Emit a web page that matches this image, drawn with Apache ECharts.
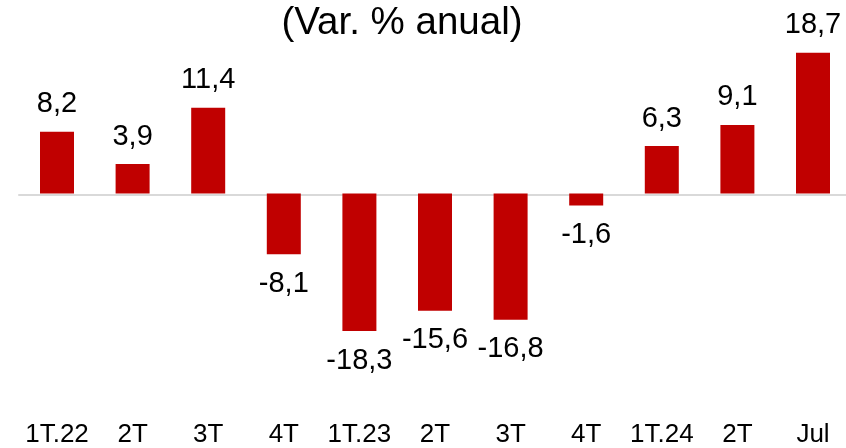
<!DOCTYPE html>
<html>
<head>
<meta charset="utf-8">
<script src="https://cdn.jsdelivr.net/npm/echarts@6/dist/echarts.min.js"></script>
<style>
  html, body { margin: 0; padding: 0; background: #fff; }
  #chart { width: 846px; height: 448px; }
</style>
</head>
<body>
<div id="chart"></div>
<script>
var categories = ['1T.22', '2T', '3T', '4T', '1T.23', '2T', '3T', '4T', '1T.24', '2T', 'Jul'];
var values = [8.2, 3.9, 11.4, -8.1, -18.3, -15.6, -16.8, -1.6, 6.3, 9.1, 18.7];
var titleText = '(Var. % anual)';

function fmt(v) {
    return v.toFixed(1).replace('.', ',');
}

var barData = [];
for (var i = 0; i < values.length; i++) {
    var v = values[i];
    barData.push({
        value: v,
        label: {
            position: v < 0 ? 'bottom' : 'top',
            distance: v < 0 ? 15 : 13
        }
    });
}

var labelFont = 'Liberation Sans, Arial';

var chart = echarts.init(document.getElementById('chart'));
chart.setOption({
    animation: false,
    title: {
        text: titleText,
        left: 397,
        textAlign: 'center',
        top: -1,
        textStyle: {
            fontFamily: labelFont,
            fontSize: 38.5,
            fontWeight: 'normal',
            color: '#000'
        }
    },
    grid: [
        // bars: first and last category centred on the grid edges
        { left: 57, right: 33, top: 43, height: 380 },
        // full-width grid only for the zero line
        { left: 19, right: 0, top: 43, height: 380 }
    ],
    xAxis: [{
        type: 'category',
        gridIndex: 0,
        data: categories,
        boundaryGap: false,
        axisLine: { show: false, onZero: false },
        axisTick: { show: false },
        splitLine: { show: false },
        axisLabel: {
            interval: 0,
            margin: 3,
            fontFamily: labelFont,
            fontSize: 26,
            color: '#000'
        }
    }, {
        type: 'value',
        gridIndex: 1,
        min: 0,
        max: 1,
        axisLine: { show: true, onZero: true, lineStyle: { color: '#d9d9d9', width: 2 } },
        axisTick: { show: false },
        axisLabel: { show: false },
        splitLine: { show: false }
    }],
    yAxis: [{
        type: 'value',
        gridIndex: 0,
        min: -30,
        max: 20,
        show: false
    }, {
        type: 'value',
        gridIndex: 1,
        min: -30,
        max: 20,
        show: false
    }],
    series: [{
        type: 'bar',
        xAxisIndex: 0,
        yAxisIndex: 0,
        data: barData,
        barWidth: 34,
        clip: false,
        z: 3,
        itemStyle: { color: '#C00000' },
        label: {
            show: true,
            fontFamily: labelFont,
            fontSize: 29,
            color: '#000',
            formatter: function (p) { return fmt(p.value); }
        }
    }]
});
</script>
</body>
</html>
